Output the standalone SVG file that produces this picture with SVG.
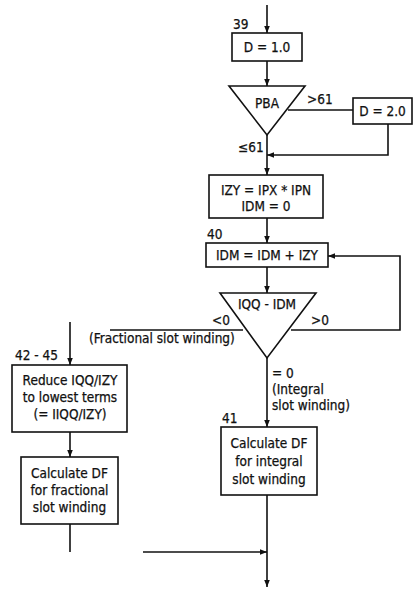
<svg xmlns="http://www.w3.org/2000/svg" width="418" height="590" viewBox="0 0 418 590">
<defs>
<marker id="ah" viewBox="0 0 10 10" refX="10" refY="5" markerWidth="7" markerHeight="7" markerUnits="userSpaceOnUse" orient="auto">
<path d="M0,1 L10,5 L0,9 Z" fill="#111"/>
</marker>
<style>
.box{fill:#fff;stroke:#111;stroke-width:1.6}
.ln{fill:none;stroke:#111;stroke-width:1.6}
text{font-family:"DejaVu Sans Condensed","DejaVu Sans","Liberation Sans",sans-serif;font-size:13.5px;fill:#111;stroke:#111;stroke-width:0.25}
.c{text-anchor:middle}
</style>
</defs>
<rect width="418" height="590" fill="#fff"/>
<g id="connectors">
<path class="ln" d="M267,5 V33" marker-end="url(#ah)"/>
<path class="ln" d="M267,61 V86" marker-end="url(#ah)"/>
<path class="ln" d="M288,110 H353"/>
<path class="ln" d="M388,124 V155 H267" marker-end="url(#ah)"/>
<path class="ln" d="M267,135 V175" marker-end="url(#ah)"/>
<path class="ln" d="M267,218 V243" marker-end="url(#ah)"/>
<path class="ln" d="M267,267 V293" marker-end="url(#ah)"/>
<path class="ln" d="M291,330 H400 V256 H328" marker-end="url(#ah)"/>
<path class="ln" d="M243,330 H110"/>
<path class="ln" d="M70,322 V365" marker-end="url(#ah)"/>
<path class="ln" d="M70,432 V457" marker-end="url(#ah)"/>
<path class="ln" d="M70,524 V552"/>
<path class="ln" d="M267,358 V427" marker-end="url(#ah)"/>
<path class="ln" d="M267,495 V587" marker-end="url(#ah)"/>
<path class="ln" d="M143,552 H267" marker-end="url(#ah)"/>
</g>
<g id="n39">
<rect class="box" x="232" y="33" width="70" height="28"/>
<text x="233" y="29">39</text>
<text class="c" x="267" y="52">D = 1.0</text>
</g>
<g id="pba">
<path class="box" d="M229,86 H305 L267,135 Z"/>
<text class="c" x="267" y="108">PBA</text>
<text x="307" y="104">&gt;61</text>
<text x="238" y="152">≤61</text>
</g>
<g id="d2">
<rect class="box" x="353" y="98" width="59" height="26"/>
<text class="c" x="382.5" y="116">D = 2.0</text>
</g>
<g id="izy">
<rect class="box" x="209" y="175" width="114" height="43"/>
<text class="c" x="266" y="195">IZY = IPX * IPN</text>
<text class="c" x="266" y="211">IDM = 0</text>
</g>
<g id="n40">
<rect class="box" x="206" y="243" width="122" height="24"/>
<text x="207" y="239">40</text>
<text class="c" x="267" y="260">IDM = IDM + IZY</text>
</g>
<g id="iqq">
<path class="box" d="M220,293 H316 L267,358 Z"/>
<text class="c" x="267" y="309">IQQ - IDM</text>
<text x="212" y="325">&lt;0</text>
<text x="311" y="325">&gt;0</text>
<text x="89" y="343">(Fractional slot winding)</text>
<text x="272" y="378">= 0</text>
<text x="272" y="394">(Integral</text>
<text x="272" y="410">slot winding)</text>
</g>
<g id="n42">
<rect class="box" x="12" y="365" width="115" height="67"/>
<text x="15" y="360">42 - 45</text>
<text class="c" x="70" y="385">Reduce IQQ/IZY</text>
<text class="c" x="70" y="402">to lowest terms</text>
<text class="c" x="70" y="419">(= IIQQ/IZY)</text>
</g>
<g id="fractional">
<rect class="box" x="21" y="457" width="97" height="67"/>
<text class="c" x="69.5" y="478">Calculate DF</text>
<text class="c" x="69.5" y="495">for fractional</text>
<text class="c" x="69.5" y="512">slot winding</text>
</g>
<g id="n41">
<rect class="box" x="221" y="427" width="96" height="68"/>
<text x="222" y="423">41</text>
<text class="c" x="269" y="448">Calculate DF</text>
<text class="c" x="269" y="466">for integral</text>
<text class="c" x="269" y="484">slot winding</text>
</g>
</svg>
